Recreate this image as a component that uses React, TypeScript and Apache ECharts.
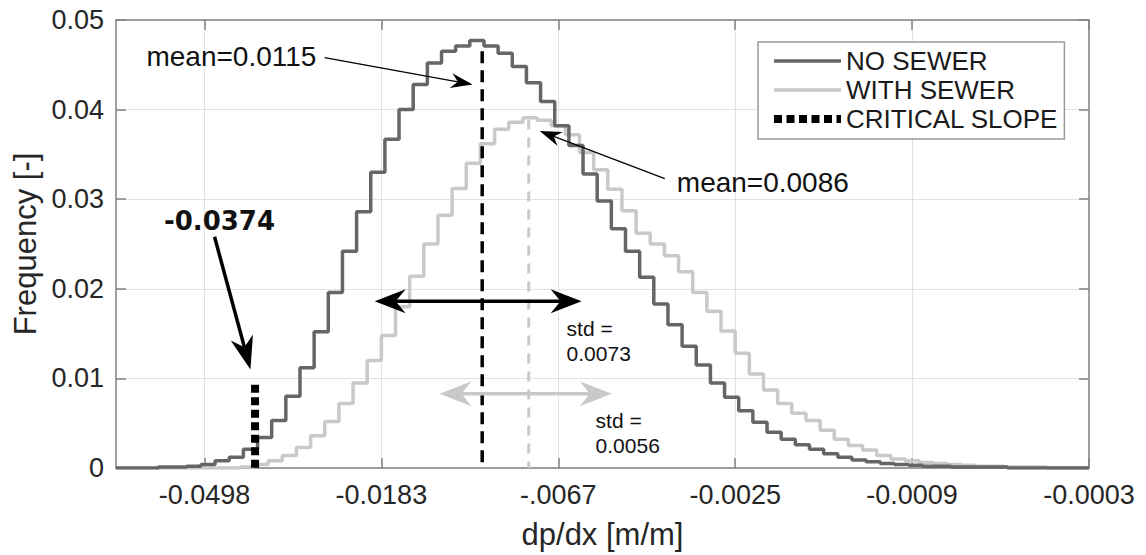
import React, { useEffect, useRef } from 'react';
import * as echarts from 'echarts';

// x axis is plotted in u = -ln|dp/dx| (log scale), ticks at e^-3 ... e^-8
const xTickExponents = [3, 4, 5, 6, 7, 8];
const xTickLabels = ['-0.0498', '-0.0183', '-.0067', '-0.0025', '-0.0009', '-0.0003'];

const binWidth = 0.08;
const noSewerStart = 2.5;
const withSewerStart = 2.72;

const noSewerFreq = [
  0, 0, 0, 0.0001, 0.0001, 0.0002, 0.0004, 0.0008, 0.0012, 0.0021,
  0.0034, 0.0053, 0.008, 0.0112, 0.0152, 0.0196, 0.0242, 0.0286, 0.033, 0.0367,
  0.04, 0.0428, 0.0452, 0.0465, 0.0471, 0.0477, 0.0471, 0.0463, 0.0448, 0.043,
  0.0409, 0.0382, 0.036, 0.0328, 0.0298, 0.0267, 0.0242, 0.0213, 0.0183, 0.016,
  0.0136, 0.0115, 0.0095, 0.0079, 0.0064, 0.0051, 0.004, 0.0032, 0.0026, 0.0021,
  0.0016, 0.0012, 0.0009, 0.0007, 0.0005, 0.0004, 0.0003, 0.0002, 0.0002, 0.0001,
  0.0001, 0.0001, 0.0001, 0, 0, 0, 0, 0, 0,
];

const withSewerFreq = [
  0, 0, 0, 0, 0, 0, 0.0001, 0.0004, 0.0008, 0.0014,
  0.0023, 0.0036, 0.0052, 0.0072, 0.0095, 0.012, 0.0148, 0.018, 0.0214, 0.025,
  0.0282, 0.0312, 0.034, 0.0362, 0.0378, 0.0386, 0.0391, 0.0388, 0.0382, 0.0372,
  0.0352, 0.0333, 0.0311, 0.0287, 0.0262, 0.025, 0.0237, 0.0219, 0.0196, 0.0175,
  0.0153, 0.0128, 0.0105, 0.0087, 0.0072, 0.0061, 0.0053, 0.0042, 0.0032, 0.0025,
  0.002, 0.0014, 0.001, 0.0008, 0.0006, 0.0005, 0.0004, 0.0003, 0.0002, 0.0002,
  0.0001, 0.0001, 0.0001, 0, 0, 0,
];

const seriesNames = ['NO SEWER', 'WITH SEWER', 'CRITICAL SLOPE'];
const criticalSlope = -0.0374;
const criticalHeight = 0.0093;
const meanPositions = [4.57, 4.833];
const meanHeights = [0.0465, 0.0389];
const meanLabels = ['mean=0.0115', 'mean=0.0086'];
const stdLabels = ['0.0073', '0.0056'];

const FONT = "'Liberation Sans', Arial, Helvetica, sans-serif";
const AXIS_GRAY = '#828282';
const TEXT = '#262626';
const DARK = '#666666';
const LIGHT = '#c9c9c9';
const XMIN = 2.5;
const XMAX = 8;

function steps(start: number, values: number[]) {
  const pts: number[][] = values.map((v, k) => [start + binWidth * k, v]);
  const endX = Math.min(start + binWidth * values.length, XMAX);
  pts.push([endX, values[values.length - 1]]);
  return pts;
}

type P = [number, number];
function headPoints(tip: P, from: P, L: number, W: number, notch: number) {
  const dx = tip[0] - from[0];
  const dy = tip[1] - from[1];
  const len = Math.hypot(dx, dy) || 1;
  const ux = dx / len;
  const uy = dy / len;
  const nx = -uy;
  const ny = ux;
  const bx = tip[0] - ux * L;
  const by = tip[1] - uy * L;
  const n: P = [bx + ux * notch, by + uy * notch];
  return {
    poly: [tip, [bx + nx * W, by + ny * W], n, [bx - nx * W, by - ny * W]] as P[],
    neck: n,
  };
}

export default function App() {
  const ref = useRef<HTMLDivElement>(null);

  useEffect(() => {
    if (!ref.current) return;
    const chart = echarts.init(ref.current, null, { renderer: 'svg' });
    const criticalU = -Math.log(Math.abs(criticalSlope));

    const axisLineStyle = { color: AXIS_GRAY, width: 1.5 };
    const hiddenSymbol = { opacity: 0 };
    const option: any = {
      animation: false,
      backgroundColor: '#ffffff',
      grid: { left: 116, right: 57, top: 20, bottom: 84, containLabel: false },
      legend: {
        orient: 'vertical',
        left: 758,
        top: 42,
        padding: [6, 6, 7, 12],
        itemWidth: 67,
        itemHeight: 14,
        itemGap: 3,
        backgroundColor: '#ffffff',
        borderColor: '#9a9a9a',
        borderWidth: 1.5,
        borderRadius: 0,
        textStyle: { fontSize: 26, lineHeight: 26, color: '#1a1a1a', fontFamily: FONT },
        data: [
          { name: seriesNames[0], itemStyle: hiddenSymbol, lineStyle: { width: 3.5 } },
          { name: seriesNames[1], itemStyle: hiddenSymbol, lineStyle: { width: 3.5 } },
          { name: seriesNames[2], itemStyle: hiddenSymbol, lineStyle: { width: 8, type: [8, 4.5] } },
        ],
      },
      xAxis: [
        {
          type: 'value',
          min: XMIN,
          max: XMAX,
          position: 'bottom',
          name: 'dp/dx [m/m]',
          nameLocation: 'middle',
          nameGap: 51,
          nameTextStyle: { fontSize: 31, color: TEXT, fontFamily: FONT },
          axisLine: { show: true, onZero: false, lineStyle: axisLineStyle },
          axisTick: { show: true, inside: true, length: 10, customValues: xTickExponents, lineStyle: axisLineStyle },
          axisLabel: {
            show: true,
            margin: 13,
            customValues: xTickExponents,
            fontSize: 27,
            color: TEXT,
            fontFamily: FONT,
            formatter: (v: number) => {
              const i = xTickExponents.indexOf(Math.round(v));
              return i >= 0 ? xTickLabels[i] : '';
            },
          },
          splitLine: { show: true, lineStyle: { color: '#e2e2e2', width: 1 } },
        },
        {
          type: 'value',
          min: XMIN,
          max: XMAX,
          position: 'top',
          axisLine: { show: true, onZero: false, lineStyle: axisLineStyle },
          axisTick: { show: true, inside: true, length: 10, customValues: xTickExponents, lineStyle: axisLineStyle },
          axisLabel: { show: false },
          splitLine: { show: false },
        },
      ],
      yAxis: [
        {
          type: 'value',
          min: 0,
          max: 0.05,
          interval: 0.01,
          position: 'left',
          name: 'Frequency [-]',
          nameLocation: 'middle',
          nameGap: 72,
          nameTextStyle: { fontSize: 31, color: TEXT, fontFamily: FONT },
          axisLine: { show: true, onZero: false, lineStyle: axisLineStyle },
          axisTick: { show: true, inside: true, length: 10, lineStyle: axisLineStyle },
          axisLabel: {
            margin: 12,
            fontSize: 27,
            color: TEXT,
            fontFamily: FONT,
            formatter: (v: number) => (v === 0 ? '0' : v.toFixed(2)),
          },
          splitLine: { show: true, lineStyle: { color: '#e2e2e2', width: 1 } },
        },
        {
          type: 'value',
          min: 0,
          max: 0.05,
          interval: 0.01,
          position: 'right',
          axisLine: { show: true, onZero: false, lineStyle: axisLineStyle },
          axisTick: { show: true, inside: true, length: 10, lineStyle: axisLineStyle },
          axisLabel: { show: false },
          splitLine: { show: false },
        },
      ],
      series: [
        {
          name: seriesNames[1],
          type: 'line',
          step: 'end',
          symbol: 'none',
          z: 2,
          lineStyle: { color: LIGHT, width: 3.5 },
          itemStyle: { color: LIGHT },
          data: steps(withSewerStart, withSewerFreq),
        },
        {
          name: seriesNames[0],
          type: 'line',
          step: 'end',
          symbol: 'none',
          z: 3,
          lineStyle: { color: DARK, width: 3.5 },
          itemStyle: { color: DARK },
          data: steps(noSewerStart, noSewerFreq),
        },
        {
          name: 'mean no sewer',
          type: 'line',
          symbol: 'none',
          z: 4,
          lineStyle: { color: '#000000', width: 3.5, type: [12, 7] },
          data: [
            [meanPositions[0], meanHeights[0]],
            [meanPositions[0], 0],
          ],
        },
        {
          name: 'mean with sewer',
          type: 'line',
          symbol: 'none',
          z: 4,
          lineStyle: { color: LIGHT, width: 3, type: [10, 8] },
          data: [
            [meanPositions[1], meanHeights[1]],
            [meanPositions[1], 0],
          ],
        },
        {
          name: seriesNames[2],
          type: 'line',
          symbol: 'none',
          z: 5,
          clip: false,
          lineStyle: { color: '#000000', width: 8, type: [8, 4.5] },
          itemStyle: { color: '#000000' },
          data: [
            [criticalU, criticalHeight],
            [criticalU, -0.0003],
          ],
        },
      ],
    };
    chart.setOption(option);

    const px = (p: number[]): P => chart.convertToPixel({ xAxisIndex: 0, yAxisIndex: 0 }, p) as P;

    const arrows = [
      { from: [3.679, 0.0458], to: [4.516, 0.0428], color: '#000000', width: 1.2, L: 22, W: 7.5, notch: 7, both: false },
      { from: [5.602, 0.0323], to: [4.895, 0.0376], color: '#000000', width: 1.2, L: 22, W: 7.5, notch: 7, both: false },
      { from: [3.057, 0.0258], to: [3.26, 0.011], color: '#000000', width: 3.5, L: 33, W: 11.5, notch: 10, both: false },
      { from: [3.962, 0.0186], to: [5.132, 0.0186], color: '#000000', width: 3.5, L: 31, W: 12, notch: 10, both: true },
      { from: [4.329, 0.0083], to: [5.302, 0.0083], color: LIGHT, width: 3.5, L: 32, W: 12.5, notch: 10, both: true },
    ];

    const texts = [
      { text: meanLabels[0], at: [2.672, 0.0459], size: 28, family: FONT, weight: 'normal', align: 'left', v: 'middle', lh: 28 },
      { text: meanLabels[1], at: [5.67, 0.0319], size: 28, family: FONT, weight: 'normal', align: 'left', v: 'middle', lh: 28 },
      { text: criticalSlope.toFixed(4), at: [3.085, 0.0276], size: 26, family: "'DejaVu Sans', sans-serif", weight: 'bold', align: 'center', v: 'middle', lh: 26 },
      { text: 'std =\n' + stdLabels[0], at: [5.047, 0.017], size: 21, family: FONT, weight: 'normal', align: 'left', v: 'top', lh: 25 },
      { text: 'std =\n' + stdLabels[1], at: [5.211, 0.0067], size: 21, family: FONT, weight: 'normal', align: 'left', v: 'top', lh: 25 },
    ];

    const elements: any[] = [];
    arrows.forEach((a) => {
      const s = px(a.from);
      const e = px(a.to);
      const hEnd = headPoints(e, s, a.L, a.W, a.notch);
      let lineStart = s;
      if (a.both) {
        const hStart = headPoints(s, e, a.L, a.W, a.notch);
        lineStart = hStart.neck;
        elements.push({ type: 'polygon', z: 100, shape: { points: hStart.poly }, style: { fill: a.color } });
      }
      elements.push({
        type: 'line',
        z: 100,
        shape: { x1: lineStart[0], y1: lineStart[1], x2: hEnd.neck[0], y2: hEnd.neck[1] },
        style: { stroke: a.color, lineWidth: a.width },
      });
      elements.push({ type: 'polygon', z: 100, shape: { points: hEnd.poly }, style: { fill: a.color } });
    });
    texts.forEach((t) => {
      const p = px(t.at);
      elements.push({
        type: 'text',
        z: 101,
        x: p[0],
        y: p[1],
        style: {
          text: t.text,
          fontSize: t.size,
          fontFamily: t.family,
          fontWeight: t.weight,
          lineHeight: t.lh,
          fill: '#111111',
          align: t.align,
          verticalAlign: t.v,
          textAlign: t.align,
          textVerticalAlign: t.v,
        },
      });
    });
    chart.setOption({ graphic: { elements } });

    return () => chart.dispose();
  }, []);

  return (
    <div
      ref={ref}
      style={{ position: 'fixed', left: 0, top: 0, width: 1146, height: 555, background: '#ffffff' }}
    />
  );
}
